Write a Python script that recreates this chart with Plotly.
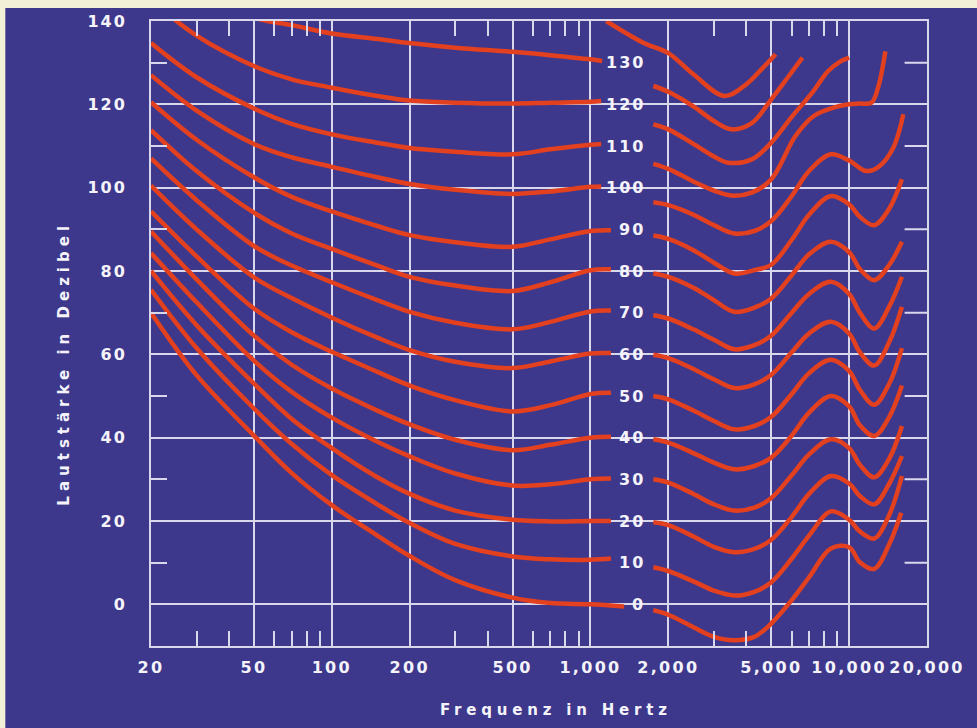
import math
import plotly.graph_objects as go

# ---------------- data ----------------
levels = [0, 10, 20, 30, 40, 50, 60, 70, 80, 90, 100, 110, 120, 130]

# left half of the contours (20 Hz ... ~1.2 kHz)
left_f = [20, 30, 50, 70, 100, 150, 200, 300, 500, 700, 1000]
left_0 = [70, 55, 40.5, 31.5, 23.8, 16.5, 11.6, 5.8, 1.6, 0.3, 0]
left_10 = [75.5, 61.5, 47, 38.5, 31, 24, 19.5, 14.5, 11.5, 10.8, 10.7]
left_20 = [80, 67, 53, 44.5, 37.5, 30.5, 26.5, 22.5, 20.3, 19.9, 20]
left_30 = [84.3, 72.5, 58.5, 51, 44.8, 39, 35.5, 31.4, 28.5, 28.8, 30]
left_40 = [89.5, 78, 64.5, 57.5, 51.8, 46.5, 43.2, 39.5, 37, 38.3, 40]
left_50 = [94.3, 83.5, 71, 65.3, 60.6, 55.8, 52.5, 49, 46.3, 47.8, 50.5]
left_60 = [100.5, 90, 78.5, 73.5, 68.8, 64, 61, 58.2, 56.7, 58.3, 60.2]
left_70 = [107, 97, 86, 81.3, 77.3, 73, 70.2, 67.6, 66, 67.8, 70.3]
left_80 = [113.8, 104, 94, 89, 85.3, 81.3, 78.6, 76.5, 75.2, 77.3, 80.2]
left_90 = [120.5, 111.5, 102.5, 97.8, 94.3, 90.8, 88.6, 86.9, 85.8, 87.6, 89.6]
left_100 = [127, 118.5, 110.5, 107.3, 105, 102.5, 100.9, 99.5, 98.5, 99.1, 100.2]
left_110 = [134.7, 126.5, 119, 115.3, 112.8, 110.8, 109.5, 108.6, 108, 109.2, 110.3]
left_120 = [145, 136.5, 129.2, 126, 124, 122, 120.9, 120.4, 120.2, 120.4, 120.6]
left_130 = [152, 147, 140.8, 139, 137, 135.7, 134.7, 133.6, 132.6, 131.8, 130.8]
left_end_f = [1350, 1200, 1200, 1200, 1200, 1200, 1200, 1200, 1200, 1200, 1100, 1100, 1100, 1110]
left_end_db = [-0.5, 11, 20, 30.2, 40.2, 50.8, 60.3, 70.5, 80.4, 89.8, 100.3, 110.5, 120.8, 130.4]

# right half of the contours (~1.7 kHz ... 16 kHz)
right_f = [1750, 2000, 2500, 3000, 3600, 4300, 5000, 6000, 7000, 8500, 10000, 11000, 12500, 14300, 16000]
right_0_f = [1750, 2000, 2500, 3000, 3600, 4300, 5000, 6000, 7000, 8500, 10000, 11000, 12500, 14300, 15900]
right_0 = [-1.4, -2.5, -5.5, -7.8, -8.6, -7.8, -4.6, 1, 6.5, 13.4, 13.7, 10.1, 8.5, 14.5, 22]
right_10 = [8.9, 8, 5.5, 3.3, 2.1, 3, 5.3, 11, 16.5, 22.3, 20.3, 17.5, 15.8, 21.5, 30.8]
right_20 = [19.7, 19, 16.3, 13.8, 12.5, 13.3, 15.5, 21, 26.5, 30.8, 29, 26, 24, 29, 35.6]
right_30 = [30, 29.2, 26.5, 24, 22.5, 23.2, 25.5, 31, 36, 39.6, 37.5, 33.5, 30.5, 35, 42.8]
right_40 = [39.6, 38.8, 36.3, 34, 32.4, 33.2, 35.2, 40.5, 46, 50, 47.5, 43, 40.4, 45, 52.5]
right_50 = [50, 49.2, 46.5, 44, 42, 42.8, 45, 50.5, 55.5, 58.7, 56, 51.5, 47.9, 53, 61.5]
right_60 = [59.9, 59.1, 56.5, 54, 51.9, 52.8, 55.1, 60.5, 65, 67.8, 65, 60.5, 57.3, 63, 71.4]
right_70 = [69.4, 68.6, 66, 63.5, 61.2, 62.2, 64.5, 70, 74.5, 77.4, 74.5, 70, 66.2, 71.5, 78.6]
right_80 = [79.4, 78.6, 76, 73, 70.2, 71.2, 73.4, 79, 84, 87, 84.5, 80.5, 77.8, 81.5, 87]
right_90 = [88.5, 87.7, 85, 82, 79.4, 80.2, 81.5, 87.5, 93.5, 98, 96, 93, 91, 95, 102]
right_100_f = [1750, 2000, 2500, 3000, 3600, 4300, 5000, 6000, 7000, 8500, 10000, 11600, 13000, 14800, 16200]
right_100 = [96.5, 95.8, 93.5, 91, 89, 89.6, 92, 98, 104, 108, 106.5, 104, 105, 109.5, 117.6]
right_110_f = [1750, 2000, 2500, 3000, 3500, 4200, 5000, 6200, 7300, 8700, 10000, 11000, 12200, 13000, 13800]
right_110 = [105.7, 104.5, 101.5, 99.3, 98.1, 98.8, 102, 112.4, 117.2, 119.2, 120, 120.2, 120.4, 124.5, 132.7]
right_120_f = [1750, 2000, 2500, 3000, 3400, 4200, 5000, 6000, 7200, 8300, 9200, 10000]
right_120 = [115.2, 114, 110.5, 107.5, 106, 106.8, 110.8, 117, 122.8, 128, 130.2, 131.2]
right_130_f = [1750, 2000, 2500, 3000, 3500, 4200, 5000, 5800, 6600]
right_130 = [124.4, 123, 119.5, 116, 114, 115.5, 121.2, 126.5, 131.2]
right_140_f = [1150, 1600, 2000, 2500, 3300, 4000, 4600, 5200]
right_140 = [140, 134.8, 132.3, 127.2, 122, 124.8, 128.5, 132]

x_tick_vals = [20, 50, 100, 200, 500, 1000, 2000, 5000, 10000, 20000]
x_tick_text = ["20", "50", "100", "200", "500", "1,000", "2,000", "5,000", "10,000", "20,000"]
x_minor = [30, 40, 60, 70, 80, 90, 300, 400, 600, 700, 800, 900,
           3000, 4000, 6000, 7000, 8000, 9000]
y_tick_vals = [0, 20, 40, 60, 80, 100, 120, 140]
y_minor = [10, 30, 50, 70, 90, 110, 130]
label_f = 1660

# ---------------- styling ----------------
BG = "#3d388c"
GRID = "#d9d7ec"
RED = "#e2401f"
TXT = "#f5f3fa"
CREAM = "#f3f0d8"
FONT = "DejaVu Sans"


def spaced(s, ls):
    return f"<span style='letter-spacing:{ls}px'>{s}</span>"


def curve(fx, vals):
    return go.Scatter(x=fx, y=vals, mode="lines",
                      line=dict(color=RED, width=4.5, shape="spline", smoothing=1.0),
                      hoverinfo="skip", showlegend=False)


fig = go.Figure()

left_sets = [left_0, left_10, left_20, left_30, left_40, left_50, left_60,
             left_70, left_80, left_90, left_100, left_110, left_120, left_130]
for i, vals in enumerate(left_sets):
    fig.add_trace(curve(left_f + [left_end_f[i]], vals + [left_end_db[i]]))

right_sets = [(right_0_f, right_0), (right_f, right_10), (right_f, right_20),
              (right_f, right_30), (right_f, right_40), (right_f, right_50),
              (right_f, right_60), (right_f, right_70), (right_f, right_80),
              (right_f, right_90), (right_100_f, right_100), (right_110_f, right_110),
              (right_120_f, right_120), (right_130_f, right_130), (right_140_f, right_140)]
for fx, vals in right_sets:
    fig.add_trace(curve(fx, vals))

# empty trace that carries the mirrored top tick axis (x2)
fig.add_trace(go.Scatter(x=[None], y=[None], xaxis="x2", yaxis="y",
                         mode="lines", hoverinfo="skip", showlegend=False))

# short tick marks on the right frame: line markers at the right axis end,
# clipped by the plot area so that only the inner half shows
fig.add_trace(go.Scatter(x=[x_tick_vals[-1]] * len(y_minor), y=y_minor,
                         mode="markers", cliponaxis=True,
                         marker=dict(symbol="line-ew", size=32, color=GRID,
                                     line=dict(width=2, color=GRID)),
                         hoverinfo="skip", showlegend=False))

for lv in levels:
    fig.add_annotation(x=math.log10(label_f), y=lv, xref="x", yref="y",
                       text=spaced(str(lv), 2), showarrow=False,
                       xanchor="right", yanchor="middle",
                       font=dict(family=FONT, size=16, color=TXT, weight="bold"))

fig.add_annotation(x=0.5217, y=-0.102, xref="paper", yref="paper",
                   text=spaced("Frequenz in Hertz", 4.8), showarrow=False,
                   xanchor="center", yanchor="middle",
                   font=dict(family=FONT, size=15, color=TXT, weight="bold"))
fig.add_annotation(x=-0.1124, y=0.453, xref="paper", yref="paper",
                   text=spaced("Lautstärke in Dezibel", 5), showarrow=False,
                   textangle=-90, xanchor="center", yanchor="middle",
                   font=dict(family=FONT, size=15, color=TXT, weight="bold"))

# purple card on a cream page edge
fig.add_shape(type="rect", xref="paper", yref="paper",
              x0=(4 - 151) / 783, x1=(990 - 151) / 783,
              y0=(646 - 740) / 627, y1=(646 - 6) / 627,
              fillcolor=BG, line=dict(width=0), layer="below")

axis_common = dict(showline=True, linecolor=GRID, linewidth=2, mirror=True,
                   showgrid=True, gridcolor=GRID, gridwidth=2, zeroline=False,
                   ticks="", tickfont=dict(family=FONT, size=16, color=TXT, weight="bold"))

xr = [math.log10(20), math.log10(20000)]
fig.update_layout(
    xaxis=dict(type="log", range=xr,
               tickmode="array", tickvals=x_tick_vals,
               ticktext=[spaced(t, 2.3) for t in x_tick_text],
               ticklabelstandoff=6,
               minor=dict(tickmode="array", tickvals=x_minor, ticks="inside",
                          ticklen=15, tickwidth=2, tickcolor=GRID, showgrid=False),
               **axis_common),
    yaxis=dict(range=[-10, 140], tickmode="array", tickvals=y_tick_vals,
               ticktext=[spaced(str(v), 2) for v in y_tick_vals],
               ticklabelstandoff=19,
               minor=dict(tickmode="array", tickvals=y_minor, ticks="inside",
                          ticklen=16, tickwidth=2, tickcolor=GRID, showgrid=False),
               **axis_common),
    xaxis2=dict(type="log", range=xr, overlaying="x", side="top", anchor="y",
                showgrid=False, zeroline=False, showline=False,
                showticklabels=False, tickmode="array", tickvals=x_minor,
                ticks="inside", ticklen=15, tickwidth=2, tickcolor=GRID),
)

fig.update_layout(width=977, height=728,
                  margin=dict(l=151, r=43, t=19, b=82),
                  paper_bgcolor=CREAM, plot_bgcolor=BG,
                  showlegend=False)

fig.write_html("out.html", config={"displayModeBar": False},
               post_script="document.body.style.margin='0px';"
                           "document.body.style.background='" + CREAM + "';")
